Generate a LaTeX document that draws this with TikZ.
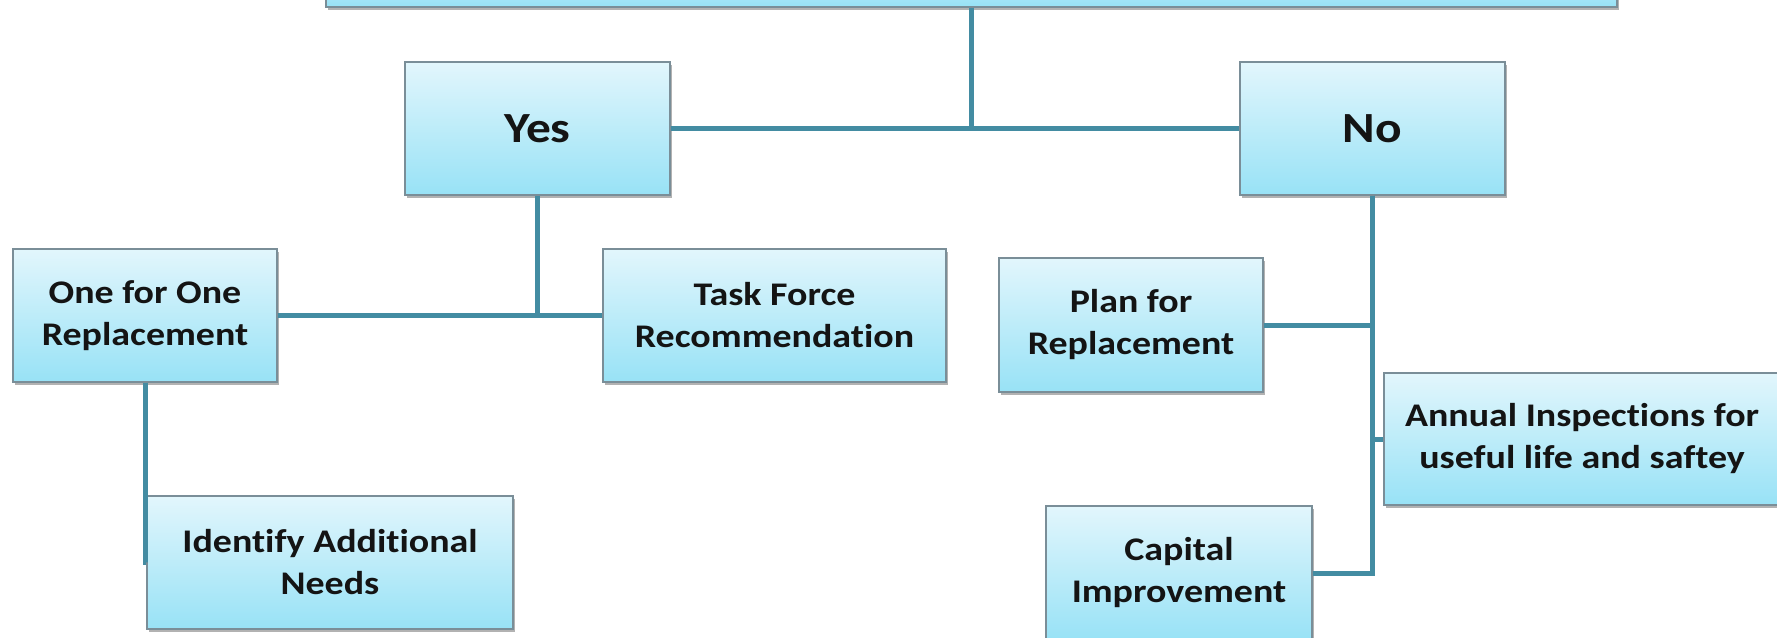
\documentclass[tikz,border=0pt]{standalone}
\usepackage{fontspec}
\setmainfont{Carlito}[FakeStretch=1.15, Ligatures={NoCommon}]
\usetikzlibrary{shadows}
\definecolor{boxtop}{RGB}{226,246,252}
\definecolor{boxbot}{RGB}{152,226,246}
\definecolor{boxborder}{RGB}{122,142,152}
\definecolor{linkc}{RGB}{67,140,162}
\definecolor{txt}{RGB}{20,20,20}
\tikzset{
  box/.style={draw=boxborder, line width=1.3pt, top color=boxtop, bottom color=boxbot,
    drop shadow={shadow xshift=2pt, shadow yshift=-3pt, opacity=0.3, fill=black},
    inner sep=0pt, align=center, text=txt,
    font=\fontsize{33}{42}\selectfont\bfseries},
  bigbox/.style={box, font=\fontsize{43}{50}\selectfont\bfseries},
  link/.style={draw=linkc, line width=5pt}
}
\begin{document}
\begin{tikzpicture}[x=1pt,y=-1pt]
\useasboundingbox (0,0) rectangle (1777,637);
\clip (0,0) rectangle (1777,637);
\fill[white] (0,0) rectangle (1777,637);
\node[box, minimum width=1291pt, minimum height=67pt] (top) at (971.5,-26.5) {};
\node[bigbox, minimum width=265pt, minimum height=133pt] (yes) at (537.5,128.5) {Yes};
\node[bigbox, minimum width=265pt, minimum height=133pt] (no) at (1372.5,128.5) {No};
\node[box, minimum width=264pt, minimum height=133pt] (one) at (145,315.5) {One for One\\Replacement};
\node[box, minimum width=343pt, minimum height=133pt] (task) at (774.5,315.5) {Task Force\\Recommendation};
\node[box, minimum width=366pt, minimum height=133pt] (ident) at (330,562.5) {Identify Additional\\Needs};
\node[box, minimum width=264pt, minimum height=134pt] (plan) at (1131,325) {Plan for\\Replacement};
\node[box, minimum width=396pt, minimum height=132pt] (annual) at (1582,439) {Annual Inspections for\\useful life and saftey};
\node[box, minimum width=266pt, minimum height=134pt] (capital) at (1179,573) {Capital\\Improvement};
\draw[link] (top.south) -- (top.south |- yes.east);
\draw[link] (yes.east) -- (no.west);
\draw[link] (yes.south) -- (yes.south |- one.east);
\draw[link] (one.east) -- (task.west);
\draw[link] (one.south) |- (ident.west);
\draw[link] (no.south) |- (plan.east);
\draw[link] (no.south) |- (annual.west);
\draw[link] (no.south) |- (capital.east);
\end{tikzpicture}
\end{document}
